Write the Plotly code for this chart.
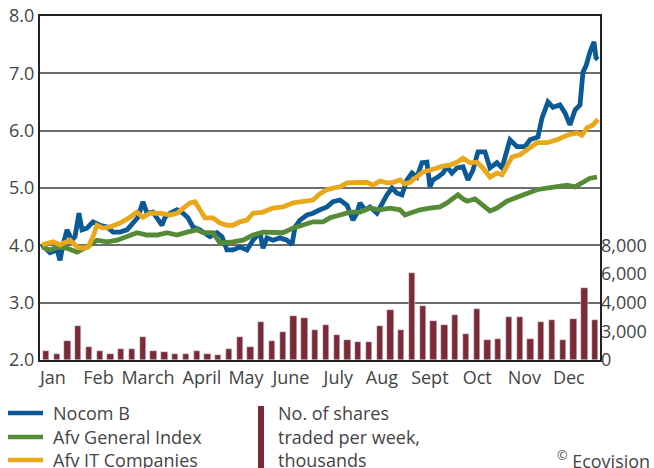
import plotly.graph_objects as go

# ---------------- data ----------------
month_labels = ["Jan", "Feb", "March", "April", "May", "June",
                "July", "Aug", "Sept", "Oct", "Nov", "Dec"]
month_pos = [1.2, 5.43, 10.03, 15.04, 19.13, 23.3, 27.7, 31.75, 36.2, 40.6, 44.98, 49.1]

nocom_x = [0.19, 0.93, 1.58, 1.86, 2.14, 2.51, 2.97, 3.25, 3.62, 3.90, 4.36, 4.92, 5.57, 6.22, 6.78,
           7.43, 8.08, 8.64, 9.10, 9.56, 9.94, 10.49, 10.96, 11.33, 11.61, 12.07, 12.72, 13.28, 13.74,
           14.21, 14.86, 15.32, 15.78, 16.43, 16.90, 17.36, 17.92, 18.57, 19.22, 19.78, 20.43, 20.71,
           21.08, 21.63, 22.28, 22.93, 23.40, 23.68, 24.14, 24.79, 25.35, 26.00, 26.65, 27.21, 27.86,
           28.51, 29.06, 29.43, 29.71, 30.18, 30.64, 31.29, 31.75, 32.22, 32.68, 33.15, 33.61, 34.08,
           34.54, 35.00, 35.47, 35.93, 36.21, 36.49, 36.95, 37.42, 37.79, 38.25, 38.72, 39.28, 39.74,
           40.20, 40.67, 41.32, 41.78, 42.43, 42.90, 43.64, 44.29, 45.03, 45.50, 46.24, 46.61, 47.17,
           47.63, 48.28, 48.75, 49.21, 49.68, 50.14, 50.42, 50.70, 51.07, 51.44, 51.63, 51.81]
nocom_y = [4.01, 3.87, 3.92, 3.74, 4.01, 4.27, 4.09, 4.15, 4.56, 4.27, 4.30, 4.41, 4.35, 4.32, 4.23,
           4.23, 4.27, 4.39, 4.49, 4.76, 4.56, 4.58, 4.44, 4.35, 4.49, 4.56, 4.62, 4.56, 4.48,
           4.32, 4.27, 4.22, 4.15, 4.22, 4.15, 3.92, 3.92, 3.97, 3.92, 4.09, 4.22, 3.95,
           4.13, 4.09, 4.13, 4.09, 4.01, 4.32, 4.44, 4.53, 4.56, 4.62, 4.67, 4.76, 4.79,
           4.70, 4.44, 4.56, 4.74, 4.62, 4.67, 4.56, 4.74, 4.88, 5.00, 4.91, 4.88, 5.14,
           5.26, 5.19, 5.44, 5.45, 5.02, 5.14, 5.19, 5.26, 5.37, 5.26, 5.35, 5.37, 5.14,
           5.31, 5.63, 5.63, 5.35, 5.44, 5.35, 5.84, 5.72, 5.72, 5.84, 5.89, 6.22, 6.50,
           6.41, 6.45, 6.31, 6.10, 6.36, 6.45, 7.02, 7.13, 7.37, 7.55, 7.27, 7.24]

general_x = [0.19, 0.93, 1.67, 2.51, 3.44, 4.36, 5.29, 6.22, 7.15, 8.08, 9.01, 9.94, 10.86, 11.79,
             12.72, 13.65, 14.58, 15.13, 16.06, 16.71, 17.36, 17.92, 18.85, 19.78, 20.71, 21.63,
             22.56, 23.49, 24.42, 25.35, 26.28, 26.93, 27.86, 28.78, 29.71, 30.64, 31.57, 32.50,
             33.43, 33.89, 34.35, 35.28, 36.21, 37.14, 37.79, 38.35, 38.81, 39.28, 39.65, 40.39,
             41.04, 41.78, 42.43, 43.36, 44.29, 45.22, 46.15, 47.08, 48.00, 48.93, 49.68, 50.42,
             51.07, 51.72]
general_y = [3.97, 3.92, 3.97, 3.95, 3.88, 3.97, 4.09, 4.06, 4.09, 4.15, 4.22, 4.18, 4.18, 4.22,
             4.18, 4.23, 4.27, 4.22, 4.22, 4.04, 4.04, 4.06, 4.09, 4.18, 4.23, 4.23,
             4.22, 4.30, 4.35, 4.41, 4.41, 4.48, 4.53, 4.58, 4.58, 4.65, 4.62, 4.65,
             4.62, 4.53, 4.56, 4.62, 4.65, 4.67, 4.74, 4.83, 4.88, 4.81, 4.77, 4.81,
             4.72, 4.60, 4.65, 4.77, 4.84, 4.91, 4.97, 5.00, 5.02, 5.05, 5.02, 5.10,
             5.17, 5.19]

it_x = [0.19, 0.65, 1.21, 1.86, 2.51, 2.79, 3.44, 3.90, 4.46, 4.92, 5.29, 5.85, 6.50, 7.43, 8.36,
        9.01, 9.56, 10.21, 11.14, 12.07, 12.72, 13.28, 13.93, 14.39, 15.04, 15.32, 16.06, 16.71,
        17.36, 17.92, 18.57, 19.22, 19.78, 20.71, 21.63, 22.56, 23.49, 24.42, 25.35, 26.00, 26.65,
        27.21, 27.86, 28.51, 29.06, 29.71, 30.36, 30.92, 31.57, 32.22, 32.78, 33.43, 33.89, 34.35,
        35.00, 35.56, 36.21, 36.86, 37.42, 38.07, 38.72, 39.28, 39.93, 40.58, 41.13, 41.78, 42.43,
        42.90, 43.36, 43.83, 44.57, 45.50, 46.15, 47.08, 48.00, 48.93, 49.86, 50.33, 50.79, 51.35,
        51.81]
it_y = [4.01, 4.04, 4.06, 4.01, 4.06, 4.09, 3.97, 3.95, 3.97, 4.15, 4.35, 4.30, 4.32, 4.39, 4.49,
        4.58, 4.49, 4.56, 4.56, 4.53, 4.56, 4.65, 4.74, 4.76, 4.56, 4.48, 4.48, 4.39,
        4.35, 4.35, 4.41, 4.44, 4.56, 4.58, 4.65, 4.67, 4.74, 4.76, 4.79, 4.90, 4.97,
        5.00, 5.02, 5.09, 5.09, 5.09, 5.10, 5.05, 5.12, 5.09, 5.10, 5.14, 5.07, 5.10,
        5.21, 5.28, 5.31, 5.35, 5.38, 5.40, 5.45, 5.52, 5.44, 5.45, 5.35, 5.19, 5.26,
        5.23, 5.40, 5.54, 5.58, 5.70, 5.79, 5.79, 5.84, 5.92, 5.96, 5.92, 6.05, 6.10,
        6.20]

shares_traded = [635, 423, 1340, 2400, 940, 635, 423, 776, 776, 1620, 635, 564, 423, 423, 635, 423,
                 353, 776, 1620, 940, 2680, 1340, 1975, 3100, 2915, 2115, 2470,
                 1740, 1390, 1250, 1250, 2375, 3500, 2090, 6040, 3785, 2730, 2450, 3150, 1810,
                 3575, 1390, 1460, 3010, 3010, 1460, 2655, 2800, 1390, 2870, 5050, 2800]
week_pos = [i + 0.55 for i in range(len(shares_traded))]

left_ticks = [2, 3, 4, 5, 6, 7, 8]
left_ticktext = ["2.0", "3.0", "4.0", "5.0", "6.0", "7.0", "8.0"]
right_ticks = [0, 2000, 4000, 6000, 8000]
right_ticktext = ["0", "3,000", "4,000", "6,000", "8,000"]

# ---------------- style ----------------
BLUE = "#0b5a96"
GREEN = "#558b37"
YELLOW = "#e8a81a"
BAR = "#7b2a36"
TXT = "#444444"
FONT = "Open Sans"
FS = 18

fig = go.Figure()
fig.add_trace(go.Bar(x=week_pos, y=shares_traded, marker_color=BAR, width=0.58,
                     yaxis="y2", showlegend=False))
fig.add_trace(go.Scatter(x=nocom_x, y=nocom_y, mode="lines",
                         line=dict(color=BLUE, width=4.8), showlegend=False))
fig.add_trace(go.Scatter(x=general_x, y=general_y, mode="lines",
                         line=dict(color=GREEN, width=4.8), showlegend=False))
fig.add_trace(go.Scatter(x=it_x, y=it_y, mode="lines",
                         line=dict(color=YELLOW, width=4.8), showlegend=False))

fig.update_layout(
    width=654, height=468,
    margin=dict(l=40, r=54, t=16, b=108, autoexpand=False),
    paper_bgcolor="white", plot_bgcolor="white",
    font=dict(family=FONT, size=FS, color=TXT),
    bargap=0,
    xaxis=dict(range=[0, 52], tickvals=month_pos, ticktext=month_labels, automargin=False,
               showgrid=False, zeroline=False, showline=True, linecolor="#222",
               linewidth=2, mirror=True, ticks="", tickfont=dict(size=FS, color=TXT)),
    yaxis=dict(range=[2, 8], tickvals=left_ticks, ticktext=left_ticktext, automargin=False,
               showgrid=True, gridcolor="#6e6e6e", gridwidth=1.5, zeroline=False,
               showline=True, linecolor="#222", linewidth=2, mirror=True, ticks="",
               tickfont=dict(size=FS, color=TXT)),
    yaxis2=dict(range=[0, 24000], overlaying="y", side="right", tickvals=right_ticks,
                ticktext=right_ticktext, showgrid=False, zeroline=False, showline=False,
                automargin=False, ticks="", tickfont=dict(size=FS, color=TXT)),
)

# ---------------- custom legend ----------------
def py(p):  # pixel y -> paper y
    return (360 - p) / 344.0

def px(p):  # pixel x -> paper x
    return (p - 40) / 560.0

legend_lines = [("Nocom B", BLUE, 413), ("Afv General Index", GREEN, 437),
                ("Afv IT Companies", YELLOW, 460)]
for name, col, yy in legend_lines:
    fig.add_shape(type="line", xref="paper", yref="paper", x0=px(8), x1=px(43),
                  y0=py(yy), y1=py(yy), line=dict(color=col, width=4.5))
    fig.add_annotation(xref="paper", yref="paper", x=px(51), y=py(yy), text=name,
                       showarrow=False, xanchor="left", yanchor="middle",
                       font=dict(size=FS, color=TXT, family=FONT))

fig.add_shape(type="rect", xref="paper", yref="paper", x0=px(258), x1=px(264),
              y0=py(472), y1=py(406), fillcolor=BAR, line=dict(width=0))
for txt, yy in [("No. of shares", 413), ("traded per week,", 437), ("thousands", 460)]:
    fig.add_annotation(xref="paper", yref="paper", x=px(276), y=py(yy), text=txt,
                       showarrow=False, xanchor="left", yanchor="middle",
                       font=dict(size=FS, color=TXT, family=FONT))

fig.add_annotation(xref="paper", yref="paper", x=px(652), y=py(460),
                   text="<sup>©</sup> Ecovision", showarrow=False, xanchor="right",
                   yanchor="middle", font=dict(size=FS, color=TXT, family=FONT))

fig.write_html("out.html", config={"displayModeBar": False},
               post_script="document.body.style.margin='0';document.body.style.overflow='hidden';")
